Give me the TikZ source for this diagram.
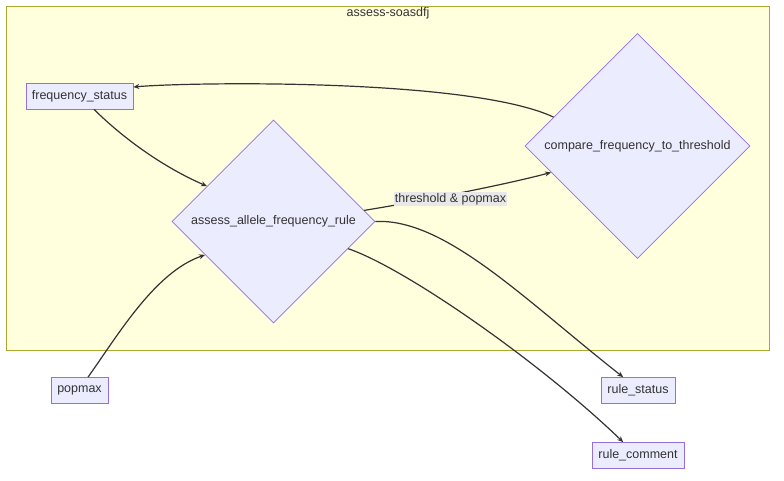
\documentclass[tikz,border=0pt]{standalone}
\usepackage{fontspec}
\setmainfont{Liberation Sans}
\usetikzlibrary{shapes.geometric,arrows.meta}
\definecolor{nodefill}{HTML}{ECECFF}
\definecolor{nodeline}{HTML}{9370DB}
\definecolor{clfill}{HTML}{FFFFDE}
\definecolor{clline}{HTML}{AAAA33}
\definecolor{txt}{HTML}{333333}
\definecolor{lblfill}{HTML}{E8E8E8}
\tikzset{
  box/.style={draw=nodeline, fill=nodefill, line width=0.7pt, text=txt, inner sep=0pt, font=\fontsize{12.5}{14}\selectfont},
  dia/.style={diamond, aspect=1, draw=nodeline, fill=nodefill, line width=0.7pt, text=txt, inner sep=0pt, font=\fontsize{12.5}{14}\selectfont},
  conn/.style={draw=txt, line width=1.2pt, -{Stealth[length=6pt,width=5pt]}},
  lbl/.style={fill=lblfill, text=txt, inner sep=1pt, font=\fontsize{12.5}{14}\selectfont}
}
\begin{document}
\begin{tikzpicture}[x=1pt,y=-1pt]
\useasboundingbox (0,0) rectangle (784,480);
\fill[white] (0,0) rectangle (784,480);
\draw[fill=clfill, draw=clline, line width=0.7pt] (6.5,6.5) rectangle (769.5,350);
\node[text=txt, font=\fontsize{12.5}{14}\selectfont] (title) at (388,13) {assess-soasdfj};

\node[box, minimum width=107pt, minimum height=26pt] (fs) at (79.5,96) {frequency\_status};
\node[box, minimum width=57pt, minimum height=26pt] (pm) at (79.5,390.5) {popmax};
\node[box, minimum width=74pt, minimum height=26pt] (rs) at (638,390.5) {rule\_status};
\node[box, minimum width=92pt, minimum height=26pt] (rc) at (638,455.5) {rule\_comment};
\node[dia, minimum width=203pt, minimum height=203pt] (af) at (273.5,221.5) {assess\_allele\_frequency\_rule};
\node[dia, minimum width=225pt, minimum height=225pt] (cf) at (637.5,146) {compare\_frequency\_to\_threshold};

\draw[conn] ([xshift=14.5pt]fs.south) .. controls (125,140) and (165,168) .. (af.152.6);
\draw[conn] ([xshift=8.5pt]pm.north) .. controls (118,335) and (155,272) .. (af.-154.6);
\draw[conn] (af.7.2) .. controls (410,203) and (500,186) .. (cf.-163.9);
\node[lbl] (lb) at (450.5,199) {threshold \& popmax};
\draw[conn] (cf.161.7) .. controls (470,78) and (190,82) .. ([yshift=9pt]fs.east);
\draw[conn] (af.east) .. controls (445,218) and (525,300) .. (rs.138);
\draw[conn] (af.-20.3) .. controls (405,268) and (540,362) .. (rc.138);
\end{tikzpicture}
\end{document}
